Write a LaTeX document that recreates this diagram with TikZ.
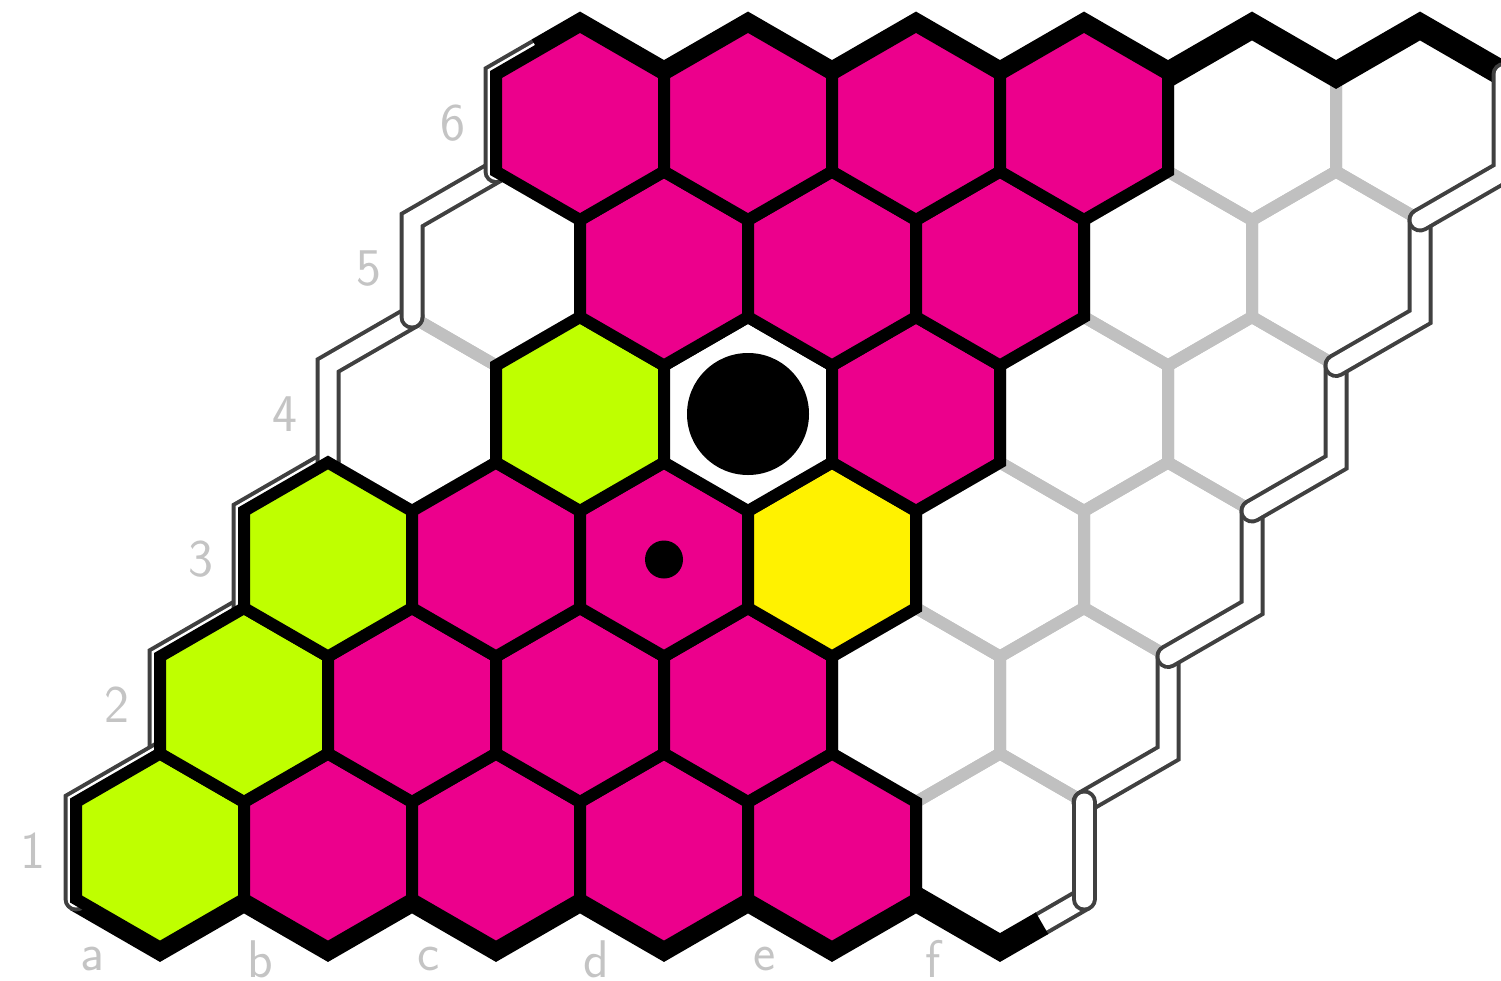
\documentclass[tikz,border=0pt]{standalone}
\definecolor{hexmag}{RGB}{236,0,140}
\definecolor{hexlime}{RGB}{191,255,0}
\definecolor{hexyel}{RGB}{255,242,0}
\definecolor{hexgray}{RGB}{192,192,192}
\definecolor{bordgray}{RGB}{64,64,64}
\definecolor{labgray}{RGB}{196,196,196}
\begin{document}
\begin{tikzpicture}[x=1pt,y=-1pt,line join=miter,
  hexgrid/.style={draw=hexgray,line width=12pt},
  hexcell/.style={draw=black,line width=12pt},
  sideline/.style={draw=bordgray,double=white,double distance=17pt,line width=4pt,line cap=round,line join=miter},
  blackside/.style={draw=black,line width=25pt,line cap=butt,line join=miter},
  lab/.style={text=labgray,font=\fontsize{53}{53}\sffamily\selectfont,inner sep=0pt}]
\useasboundingbox (0,0) rectangle (1501,980);
% light grid of all cells
\foreach \i in {0,...,5}{
  \foreach \j in {0,...,5}{
    \pgfmathsetmacro\cx{160+168*\i+84*\j}
    \pgfmathsetmacro\cy{850.5-145.5*\j}
    \draw[hexgrid,shift={(\cx,\cy)}] (0,-97) -- (84,-48.5) -- (84,48.5) -- (0,97) -- (-84,48.5) -- (-84,-48.5) -- cycle;
  }
}
% white sides (left edge: a2..a5, a6 half)
\foreach \j in {1,...,4}{
  \pgfmathsetmacro\cx{160+84*\j}
  \pgfmathsetmacro\cy{850.5-145.5*\j}
  \draw[sideline] (\cx-84,\cy+48.5) -- (\cx-84,\cy-48.5) -- (\cx,\cy-97);
}
\draw[sideline] (496,171.5) -- (496,74.5) -- (538,50.25);
% right edge: f1 half, f2..f5
\draw[sideline] (1084,899) -- (1042,923.25);
\foreach \j in {1,...,4}{
  \pgfmathsetmacro\cx{1000+84*\j}
  \pgfmathsetmacro\cy{850.5-145.5*\j}
  \draw[sideline] (\cx+84,\cy-48.5) -- (\cx+84,\cy+48.5) -- (\cx,\cy+97);
}
\draw[sideline] (1084,802) -- (1084,899);
% black sides
\draw[blackside] (538,50.25) -- (580,26) -- (664,74.5) -- (748,26) -- (832,74.5) -- (916,26) -- (1000,74.5) -- (1084,26) -- (1168,74.5) -- (1252,26) -- (1336,74.5) -- (1420,26) -- (1504,74.5);
\draw[blackside] (76,899) -- (160,947.5) -- (244,899) -- (328,947.5) -- (412,899) -- (496,947.5) -- (580,899) -- (664,947.5) -- (748,899) -- (832,947.5) -- (916,899) -- (1000,947.5) -- (1042,923.25);
% corner pieces on top of the black sides
\draw[sideline] (76,899) -- (76,802) -- (160,753.5);
\draw[sideline] (1504,74.5) -- (1504,171.5) -- (1420,220);
% coloured cells
\foreach \i/\j/\c in {0/0/hexlime,1/0/hexmag,2/0/hexmag,3/0/hexmag,4/0/hexmag,
  0/1/hexlime,1/1/hexmag,2/1/hexmag,3/1/hexmag,
  0/2/hexlime,1/2/hexmag,2/2/hexmag,3/2/hexyel,
  1/3/hexlime,2/3/white,3/3/hexmag,
  1/4/hexmag,2/4/hexmag,3/4/hexmag,
  0/5/hexmag,1/5/hexmag,2/5/hexmag,3/5/hexmag}{
    \pgfmathsetmacro\cx{160+168*\i+84*\j}
    \pgfmathsetmacro\cy{850.5-145.5*\j}
    \draw[hexcell,fill=\c,shift={(\cx,\cy)}] (0,-97) -- (84,-48.5) -- (84,48.5) -- (0,97) -- (-84,48.5) -- (-84,-48.5) -- cycle;
}
% stones
\fill[black] (748,414) circle[radius=61];
\fill[black] (664,559.5) circle[radius=19];
% labels
\foreach \t [count=\k from 0] in {a,b,c,d,e,f}{
  \node[lab] (col\t) at (92+168.2*\k,959) {\t};
}
\foreach \t [count=\k from 0] in {1,2,3,4,5,6}{
  \node[lab] (row\t) at (33+84*\k,850.5-145.5*\k) {\t};
}
\end{tikzpicture}
\end{document}
